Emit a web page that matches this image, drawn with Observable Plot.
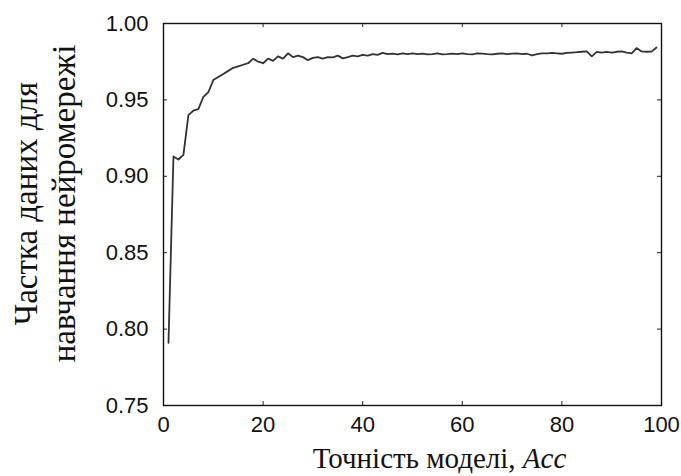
<!DOCTYPE html>
<html><head><meta charset="utf-8">
<script src="https://cdn.jsdelivr.net/npm/d3@7"></script>
<script src="https://cdn.jsdelivr.net/npm/@observablehq/plot@0.6"></script>
<style>body{margin:0;background:#fff}</style>
</head><body><div id="chart"></div>
<script>
// Accuracy curve: value at x = 1..99
const share = [
  0.791, 0.913, 0.911, 0.914, 0.940, 0.943, 0.944, 0.952, 0.955, 0.963,
  0.965, 0.967, 0.969, 0.971, 0.972, 0.973, 0.974, 0.977, 0.975, 0.974,
  0.977, 0.9755, 0.9785, 0.977, 0.9805, 0.978, 0.979, 0.978, 0.976, 0.9775,
  0.978, 0.977, 0.978, 0.9778, 0.979, 0.9772, 0.978, 0.979, 0.9785, 0.9795,
  0.979, 0.980, 0.9795, 0.9808, 0.980, 0.9803, 0.9798, 0.9805, 0.980, 0.9805,
  0.980, 0.9803, 0.9798, 0.980, 0.9805, 0.9798, 0.980, 0.9803, 0.980, 0.9805,
  0.980, 0.9798, 0.9805, 0.9803, 0.980, 0.9798, 0.9802, 0.9805, 0.980, 0.9803,
  0.9805, 0.980, 0.9802, 0.9792, 0.980, 0.9805, 0.9805, 0.9808, 0.9805, 0.9802,
  0.9808, 0.981, 0.9812, 0.9815, 0.9818, 0.9785, 0.9814, 0.981, 0.9815, 0.981,
  0.9815, 0.9818, 0.981, 0.9804, 0.9839, 0.9817, 0.9815, 0.9816, 0.9843
];
const xTicks = [0, 20, 40, 60, 80, 100];
const yTicks = [0.75, 0.80, 0.85, 0.90, 0.95, 1.00];
const xTitle = "Точність моделі, Acc";
const yTitle = "Частка даних для\nнавчання нейромережі";

const data = share.map((v, i) => ({x: i + 1, y: v}));

const W = 681, H = 476;
const mL = 163, mR = 20, mT = 23, mB = 71;
const pw = W - mL - mR, ph = H - mT - mB;
const tick = 4;
const serif = "'Liberation Serif', 'Times New Roman', serif";

const chart = Plot.plot({
  width: W, height: H,
  marginLeft: mL, marginRight: mR, marginTop: mT, marginBottom: mB,
  style: {fontFamily: "'Liberation Sans', Arial, sans-serif", fontSize: "22px", color: "#111", background: "#fff"},
  x: {domain: [0, 100], label: null},
  y: {domain: [0.75, 1.00], label: null},
  marks: [
    Plot.axisX({ticks: xTicks, tickSize: 0, tickPadding: 11, fontSize: 22, label: null}),
    Plot.axisY({ticks: yTicks, tickSize: 0, tickPadding: 15, tickFormat: d3.format(".2f"), fontSize: 22, label: null}),
    Plot.tickX(xTicks, {x: d => d, insetTop: ph - tick, stroke: "#222", strokeWidth: 1}),
    Plot.tickX(xTicks, {x: d => d, insetBottom: ph - tick, stroke: "#222", strokeWidth: 1}),
    Plot.tickY(yTicks, {y: d => d, insetRight: pw - tick, stroke: "#222", strokeWidth: 1}),
    Plot.tickY(yTicks, {y: d => d, insetLeft: pw - tick, stroke: "#222", strokeWidth: 1}),
    Plot.lineY(data, {x: "x", y: "y", stroke: "#333", strokeWidth: 1.8}),
    Plot.frame({stroke: "#111", strokeWidth: 1.4}),
    Plot.text([0], {frameAnchor: "left", textAnchor: "middle", dx: -120, dy: -11, rotate: -90, text: () => yTitle,
      lineHeight: 1.18, fontFamily: serif, fontSize: 33, fill: "#111"}),
    Plot.text([0], {frameAnchor: "bottom", dx: 27, dy: 62, text: () => xTitle,
      fontFamily: serif, fontSize: 29, fill: "#111"})
  ]
});

d3.select(chart).selectAll("text").each(function() {
  if (this.textContent === xTitle) {
    const el = d3.select(this);
    el.text("Точність моделі, ");
    el.append("tspan").attr("font-style", "italic").text("Acc");
  }
});

document.getElementById("chart").appendChild(chart);
</script>
</body></html>
